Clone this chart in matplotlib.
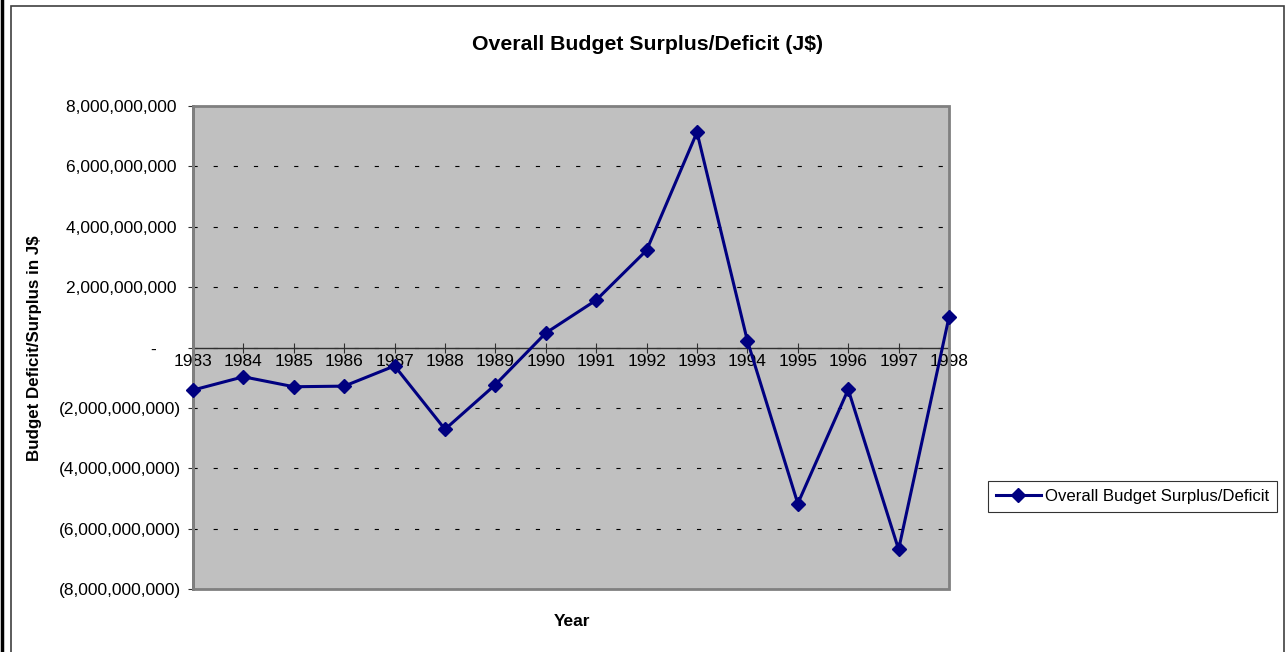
import matplotlib
matplotlib.use("Agg")
import matplotlib.pyplot as plt
from matplotlib.ticker import FuncFormatter, MultipleLocator
from matplotlib.patches import Rectangle
from matplotlib.lines import Line2D

years = ["1983", "1984", "1985", "1986", "1987", "1988", "1989", "1990",
         "1991", "1992", "1993", "1994", "1995", "1996", "1997", "1998"]
balance = [-1.41e9, -0.97e9, -1.30e9, -1.28e9, -0.61e9, -2.71e9, -1.23e9, 0.48e9,
           1.57e9, 3.22e9, 7.13e9, 0.22e9, -5.17e9, -1.39e9, -6.69e9, 1.01e9]
series_name = "Overall Budget Surplus/Deficit"
title = "Overall Budget Surplus/Deficit (J$)"
ylabel = "Budget Deficit/Surplus in J$"
xlabel = "Year"

plt.rcParams['font.family'] = ['Liberation Sans', 'DejaVu Sans']
plt.rcParams['lines.scale_dashes'] = False

W, H = 1288, 652
fig = plt.figure(figsize=(W / 100, H / 100), dpi=100)
fig.patch.set_facecolor('white')

ax = fig.add_axes([193 / W, 1 - 589 / H, 756 / W, 483 / H])
ax.set_facecolor('#c0c0c0')

xs = list(range(len(years)))
ax.plot(xs, balance, color='#000080', lw=2.2, marker='D', markersize=7.5,
        markerfacecolor='#000080', markeredgecolor='#000080', zorder=5,
        label=series_name, clip_on=False)

ax.set_xlim(0, len(years) - 1)
ax.set_ylim(-8e9, 8e9)
ax.yaxis.set_major_locator(MultipleLocator(2e9))
ax.set_xticks(xs)
ax.set_xticklabels(years)


def acct(v, pos):
    if abs(v) < 1:
        return "-     "
    if v < 0:
        return "({:,.0f})".format(-v)
    return "{:,.0f} ".format(v)


ax.yaxis.set_major_formatter(FuncFormatter(acct))

ax.yaxis.grid(True, color='black', lw=0.8, linestyle=(0, (3, 11.5)))
ax.set_axisbelow(True)

for s in ['top', 'right']:
    ax.spines[s].set_visible(False)
ax.spines['bottom'].set_position(('data', 0))
ax.spines['bottom'].set_color('#303030')
ax.spines['bottom'].set_linewidth(1)
ax.spines['left'].set_color('#606060')
ax.spines['left'].set_linewidth(2)
ax.add_patch(Rectangle((0, 0), 1, 1, transform=ax.transAxes, fill=False,
                       edgecolor='#808080', lw=2, clip_on=False, zorder=3))

ax.tick_params(axis='x', direction='inout', length=7, width=0.8, color='#303030',
               labelsize=12.5, pad=1)
ax.tick_params(axis='y', direction='out', length=3.6, width=0.8, color='#303030',
               labelsize=12.5, pad=5)

fig.text(648 / W, 1 - 45 / H, title, ha='center', va='center',
         fontsize=15.3, fontweight='bold')
fig.text(35 / W, 1 - 348 / H, ylabel, ha='center', va='center',
         rotation=90, fontsize=12.2, fontweight='bold')
fig.text(572 / W, 1 - 622 / H, xlabel, ha='center', va='center',
         fontsize=12.5, fontweight='bold')

leg = fig.legend(loc='center left', bbox_to_anchor=(988 / W, 1 - 496.5 / H),
                 fontsize=12.1, frameon=True, fancybox=False, shadow=False,
                 edgecolor='black', borderpad=0.45, handlelength=2.7,
                 handletextpad=0.25, borderaxespad=0)
leg.get_frame().set_linewidth(0.8)

# outer frames
fig.add_artist(Line2D([1.5 / W, 1.5 / W], [0, 1], color='black', lw=2.5))
fig.add_artist(Rectangle((11 / W, -0.01), (1284 - 11) / W, 1 - 6 / H + 0.01,
                         transform=fig.transFigure, fill=False,
                         edgecolor='#404040', lw=1.2))

fig.savefig('out.png', dpi=100, facecolor='white')
